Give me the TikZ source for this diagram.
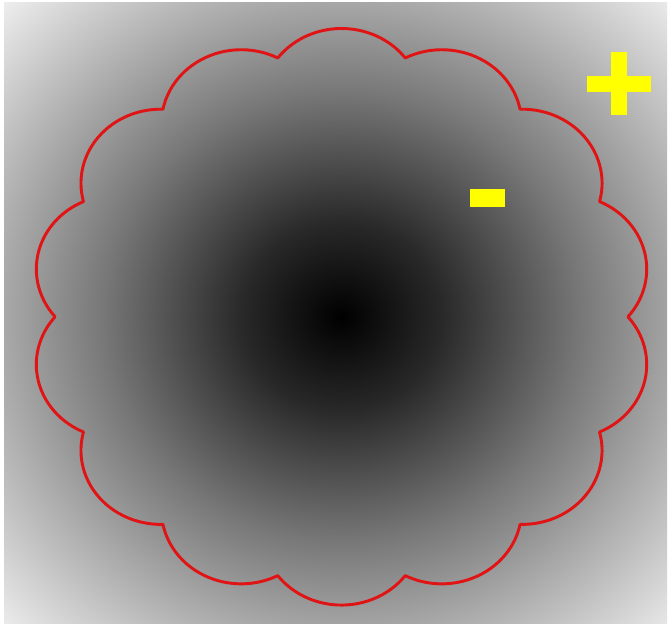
\documentclass[tikz,border=0pt]{standalone}
\usepackage{tikz}
\usepackage{xcolor}
\usetikzlibrary{positioning}
\definecolor{Level_Red}{HTML}{E01414}
\definecolor{Sign_Yellow}{HTML}{FFFF00}
\pgfdeclareradialshading{distfield}{\pgfpoint{0bp}{0bp}}{color(0bp)=(black); color(5bp)=(black!84); color(12bp)=(black!53); color(25bp)=(black!2); color(50bp)=(black!2)}

\begin{document}
\begin{tikzpicture}[x=0.03cm, y=-0.03cm]

    % Canvas is 670 x 626 px, one unit = one pixel, y downwards
    \useasboundingbox (0,0) rectangle (670,626);
    \fill[white] (0,0) rectangle (670,626);
    \coordinate (center) at (341.5,316.7);

    % === Distance field: black at the centre, light towards the corners ===
    \begin{scope}
        \clip (4,3) rectangle (667,623);
        \shade[shading=distfield] (center) ellipse [x radius=500, y radius=470];
    \end{scope}

    % === Zero level set: 14 circular lobes around the centre ===
    \begin{scope}[shift={(center)}, yscale=0.927]
        \draw[Level_Red, line width=2.5pt, line join=round]
            ({90-12.857}:286.5)
            \foreach \k in {0,...,13} {
                arc[start angle={90+\k*360/14-53}, end angle={90+\k*360/14+53}, radius=79.8]
            } -- cycle;
    \end{scope}

    % === Signs: outside positive, inside negative ===
    \fill[Sign_Yellow] (586.7,75.7) rectangle (650.7,91.7);
    \fill[Sign_Yellow] (610.7,51.7) rectangle (626.7,115.3);
    \fill[Sign_Yellow] (470,189) rectangle (505,206.7);

\end{tikzpicture}
\end{document}
